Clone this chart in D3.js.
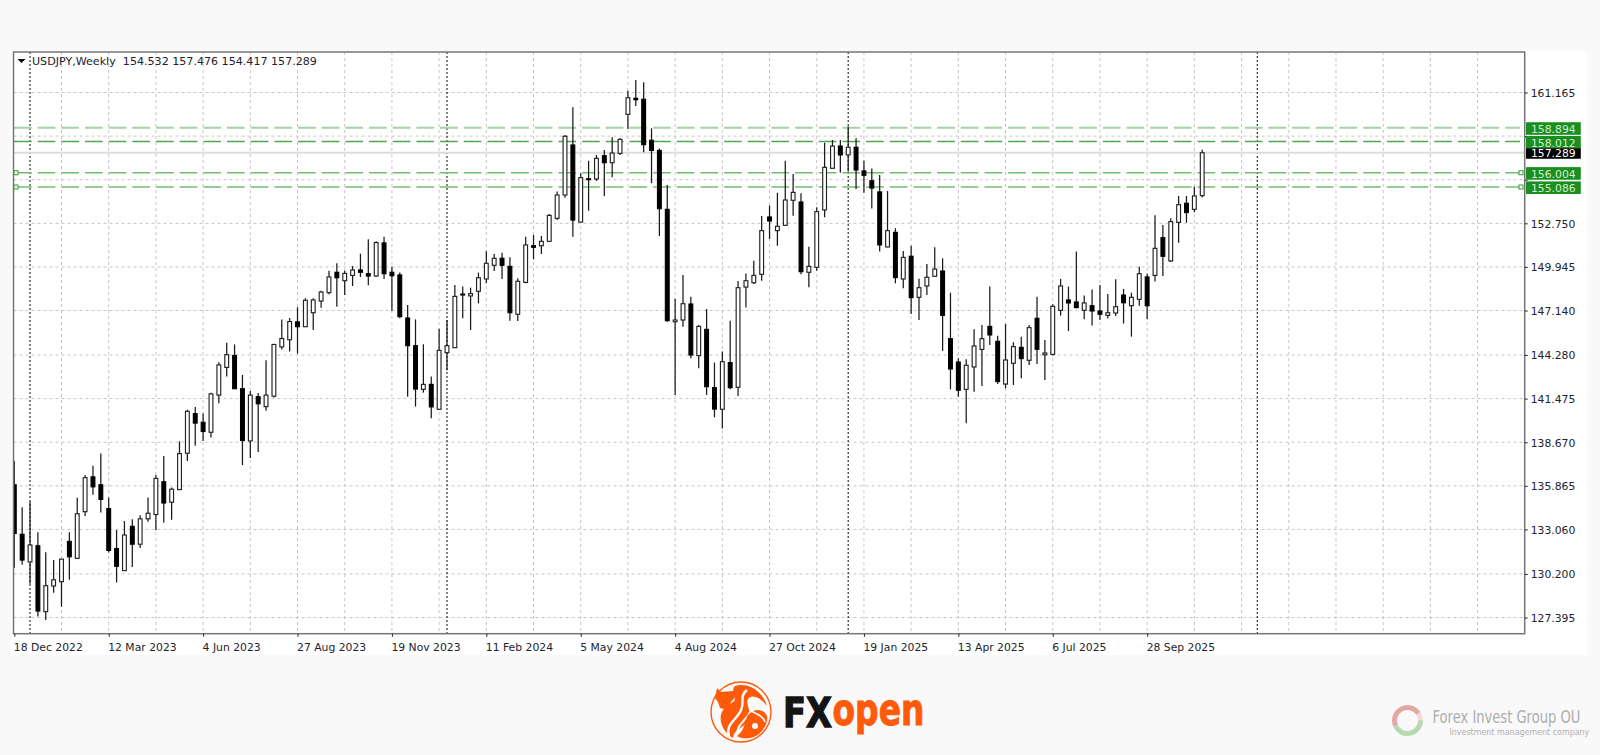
<!DOCTYPE html>
<html>
<head>
<meta charset="utf-8">
<script src="https://cdn.jsdelivr.net/npm/d3@7"></script>
<style>
html,body{margin:0;padding:0;background:#f9f9f9;overflow:hidden}
svg{display:block}
text{font-family:"DejaVu Sans",sans-serif}
</style>
</head>
<body>
<svg id="c" width="1600" height="755"></svg>
<script>
const symbolTitle = "USDJPY,Weekly  154.532 157.476 154.417 157.289";

const opens = [
135.93,132.75,130.97,132.01,127.77,129.42,129.70,132.29,131.20,134.20,
136.44,135.93,134.40,131.83,130.41,133.26,132.11,133.74,134.02,136.13,
134.81,135.62,137.96,140.51,139.95,139.31,141.70,143.48,144.25,142.11,
138.75,141.60,140.96,141.63,144.80,145.26,146.41,146.10,147.00,147.75,
148.29,149.60,149.06,149.40,149.75,149.51,149.36,151.49,149.60,149.43,
146.66,144.88,142.07,142.39,140.79,144.43,144.75,148.20,148.08,148.38,
149.17,150.05,150.50,149.98,146.90,148.95,151.31,151.31,151.59,153.07,
154.57,157.79,152.83,155.62,155.60,157.10,156.65,157.25,159.76,160.79,
160.73,158.09,157.44,153.65,146.42,146.53,147.56,144.24,145.93,142.18,
140.79,143.79,142.20,148.65,148.93,149.47,153.16,152.28,152.62,154.23,
154.12,149.60,149.92,153.61,156.29,157.72,157.15,157.64,156.12,155.49,
154.77,151.23,152.17,149.17,150.63,147.99,148.72,149.34,149.68,145.33,
143.83,142.07,143.51,144.64,146.12,145.16,142.41,143.75,144.77,143.94,
146.64,144.30,144.32,147.15,147.82,147.69,147.15,147.45,147.11,146.83,
146.98,148.14,147.45,147.86,149.30,149.40,151.83,150.33,152.81,154.04,
153.65,154.532];

const highs = [
137.46,134.48,134.84,132.88,131.60,131.09,131.15,132.88,135.09,136.56,
137.15,137.94,135.12,133.03,133.61,133.72,133.97,135.12,136.56,137.79,
135.75,138.73,140.76,140.94,140.51,141.85,143.81,145.06,144.96,143.00,
141.96,141.83,143.94,144.98,146.56,146.66,147.35,147.93,147.93,148.42,
149.70,150.18,149.70,150.01,150.80,151.72,151.59,151.89,149.96,149.58,
147.50,146.57,144.97,142.89,145.97,146.53,148.78,148.68,148.61,149.58,
150.95,150.78,150.86,150.56,149.21,151.89,152.00,151.94,153.35,154.79,
158.43,160.21,155.97,156.78,157.14,157.47,158.28,158.22,161.28,161.97,
161.82,158.86,157.57,155.22,147.90,149.43,148.03,146.21,147.24,143.79,
144.50,146.49,149.04,149.53,150.35,153.22,153.89,154.72,156.78,155.92,
154.68,151.25,153.78,157.94,158.11,158.11,158.97,158.22,156.78,156.27,
155.86,154.83,152.43,150.97,151.31,149.19,150.13,151.21,150.50,148.29,
144.07,144.00,145.93,146.21,148.68,145.52,146.27,145.10,145.46,146.21,
148.03,145.25,147.54,149.17,148.68,150.93,148.10,148.50,148.78,148.20,
149.15,148.53,148.29,149.96,149.53,153.27,152.64,153.07,154.51,154.51,
155.11,157.476];

const lows = [
130.59,130.79,129.57,127.46,127.23,128.99,128.09,129.82,131.20,133.92,
135.29,134.15,131.58,129.65,130.41,130.64,131.86,133.56,133.00,133.49,
133.69,135.62,137.46,138.45,138.75,138.98,141.17,142.90,142.11,137.20,
137.66,138.04,140.69,141.55,144.63,144.50,144.37,146.08,145.89,147.32,
148.18,147.39,148.14,148.72,149.30,148.76,149.32,149.17,147.13,146.64,
141.60,140.96,141.86,140.21,140.79,143.30,144.75,146.64,145.89,147.60,
148.89,149.68,149.17,146.49,146.47,148.89,150.43,150.78,151.57,152.96,
154.40,151.89,152.81,153.56,155.47,154.51,155.71,157.14,158.82,160.30,
157.32,155.32,151.93,146.42,141.71,146.10,144.07,143.42,141.71,140.27,
139.56,142.07,141.64,147.33,148.85,149.06,151.74,151.31,152.60,153.24,
149.47,148.63,149.70,153.14,156.27,156.01,156.07,154.96,154.72,153.71,
150.93,151.21,148.89,148.57,146.92,146.53,148.14,149.32,144.54,142.07,
141.60,139.89,141.92,142.29,144.92,142.41,142.14,142.35,142.78,143.64,
143.70,142.67,144.24,146.81,145.82,147.28,146.58,146.17,146.53,146.62,
146.79,146.30,145.46,147.45,146.58,149.00,149.36,150.26,151.50,152.79,
153.46,154.417];

const closes = [
132.80,131.09,132.06,127.81,129.44,129.82,131.15,131.30,134.07,136.39,
135.80,134.99,131.71,130.69,132.70,132.11,133.74,134.10,136.34,134.76,
135.65,137.94,140.66,139.90,139.36,141.78,143.64,144.30,142.11,138.78,
141.70,141.14,141.70,144.96,145.34,146.43,146.10,147.80,147.82,148.33,
149.30,149.25,149.53,149.75,149.60,149.36,151.51,149.51,149.38,146.75,
144.88,142.09,142.39,140.94,144.58,144.88,148.05,148.14,148.23,149.25,
150.18,150.50,150.05,147.00,149.02,151.36,151.21,151.59,153.26,154.57,
158.35,152.96,155.69,155.56,156.93,156.65,157.27,158.15,160.83,160.70,
157.81,157.44,153.69,146.49,146.53,147.58,144.28,146.12,142.24,140.80,
143.85,142.18,148.61,149.06,149.40,152.28,152.90,152.56,154.25,154.74,
149.64,149.98,153.50,156.35,157.72,157.15,157.64,156.18,155.84,155.02,
151.36,152.28,149.26,150.56,147.97,148.61,149.28,149.81,146.83,143.38,
142.01,143.62,144.86,145.33,145.57,142.57,143.96,144.82,144.05,146.04,
144.65,144.41,147.41,148.72,147.63,147.33,147.63,147.11,146.90,147.00,
147.39,147.64,147.99,149.51,147.45,151.14,150.63,152.86,153.95,153.44,
154.51,157.289];

const dateTickBars = [0,12,24,36,48,60,72,84,96,108,120,132,144];
const dateTickLabels = ["18 Dec 2022","12 Mar 2023","4 Jun 2023","27 Aug 2023","19 Nov 2023","11 Feb 2024","5 May 2024","4 Aug 2024","27 Oct 2024","19 Jan 2025","13 Apr 2025","6 Jul 2025","28 Sep 2025"];
const gridBars = d3.range(0,192,6);
const yearBars = [2,55,106,158];

const priceTicks = [161.165,158.36,155.555,152.75,149.945,147.14,144.28,141.475,138.67,135.865,133.06,130.2,127.395];
const hiddenPriceTicks = [158.36,155.555];

const levelPrices = [158.894,158.012,156.004,155.086];
const levelColors = ["#a3d3a3","#4fa64f","#72bb72","#96cc96"];
const levelWidths = [2,1.4,1.6,2];
const anchoredLevels = [156.004,155.086];
const lastPrice = 157.289;

const svg = d3.select("#c");
const frame = {l:13.5,r:1524.7,t:52,b:633.7};

const x = d3.scaleLinear().domain([0,192]).range([14.3,14.3+7.867*192]);
const y = d3.scaleLinear().domain([127.395,161.165]).range([617.5,92.5]);

// white panel
svg.append("rect").attr("x",11).attr("y",51).attr("width",1576).attr("height",604).attr("fill","#fff");

const defs = svg.append("defs");
defs.append("clipPath").attr("id","plot").append("rect")
  .attr("x",frame.l).attr("y",frame.t).attr("width",frame.r-frame.l).attr("height",frame.b-frame.t);

const plot = svg.append("g").attr("clip-path","url(#plot)");

// grid
plot.append("g").selectAll("line").data(gridBars.slice(1)).join("line")
  .attr("x1",d=>x(d)).attr("x2",d=>x(d)).attr("y1",frame.t).attr("y2",frame.b)
  .attr("stroke","#c6c6c6").attr("stroke-dasharray","3 3");
plot.append("g").selectAll("line").data(priceTicks).join("line")
  .attr("x1",frame.l).attr("x2",frame.r).attr("y1",d=>y(d)).attr("y2",d=>y(d))
  .attr("stroke","#c6c6c6").attr("stroke-dasharray","3 3");

// year separators
plot.append("g").selectAll("line").data(yearBars).join("line")
  .attr("x1",d=>x(d)).attr("x2",d=>x(d)).attr("y1",frame.t).attr("y2",frame.b)
  .attr("stroke","#1c1c1c").attr("stroke-width",1.1).attr("stroke-dasharray","2 2");

// last price line
plot.append("line").attr("x1",frame.l).attr("x2",frame.r).attr("y1",y(lastPrice)).attr("y2",y(lastPrice))
  .attr("stroke","#dcdcdc").attr("stroke-width",2);

// levels
plot.append("g").selectAll("line").data(levelPrices).join("line")
  .attr("x1",14).attr("x2",1520).attr("y1",d=>y(d)).attr("y2",d=>y(d))
  .attr("stroke",(d,i)=>levelColors[i]).attr("stroke-width",(d,i)=>levelWidths[i])
  .attr("stroke-dasharray","17.7 5.97");
[16,1521].forEach(ax=>{
  plot.append("g").selectAll("rect").data(anchoredLevels).join("rect")
    .attr("x",ax-2).attr("y",d=>y(d)-2).attr("width",4).attr("height",4)
    .attr("fill","#fff").attr("stroke","#2f9a2f");
});

// candles
const bars = opens.map((o,i)=>({i,o,h:highs[i],l:lows[i],c:closes[i]}));
const candle = plot.append("g").selectAll("g").data(bars).join("g");
candle.append("line")
  .attr("x1",d=>x(d.i)).attr("x2",d=>x(d.i)).attr("y1",d=>y(d.h)).attr("y2",d=>y(d.l))
  .attr("stroke","#1a1a1a").attr("stroke-width",1.25);
candle.append("rect")
  .attr("x",d=>x(d.i)-1.9).attr("width",3.8)
  .attr("y",d=>y(Math.max(d.o,d.c)))
  .attr("height",d=>Math.max(0.6,Math.abs(y(d.o)-y(d.c))))
  .attr("fill",d=>d.c>=d.o?"#fff":"#000").attr("stroke",d=>d.c>=d.o?"#222":"#000").attr("stroke-width",1.15);

// frame
svg.append("rect").attr("x",frame.l).attr("y",frame.t).attr("width",frame.r-frame.l).attr("height",frame.b-frame.t)
  .attr("fill","none").attr("stroke","#757575").attr("stroke-width",1.5);

// axes
const axisR = d3.axisRight(y).tickValues(priceTicks).tickSize(3).tickPadding(3)
  .tickFormat(d=>hiddenPriceTicks.includes(d)?"":d3.format(".3f")(d));
const gR = svg.append("g").attr("transform",`translate(${frame.r},0)`).call(axisR);
gR.select(".domain").remove();
gR.selectAll("line").attr("stroke","#222");
gR.selectAll("text").attr("fill","#22222e").attr("font-size",10.8).attr("font-family","DejaVu Sans").attr("dy","0.36em");

const axisB = d3.axisBottom(x).tickValues(dateTickBars).tickSize(3).tickPadding(7)
  .tickFormat((d,i)=>dateTickLabels[i]);
const gB = svg.append("g").attr("transform",`translate(0,${frame.b})`).call(axisB);
gB.select(".domain").remove();
gB.selectAll("line").attr("stroke","#222");
gB.selectAll("text").attr("text-anchor","start").attr("x",-1).attr("fill","#22222e")
  .attr("font-size",10.8).attr("font-family","DejaVu Sans");

// price tags
const tagPrices = [158.894,158.012,156.004,155.086];
const tagGroup = svg.append("g");
tagPrices.forEach(p=>{
  tagGroup.append("rect").attr("x",1526).attr("y",y(p)-5.6).attr("width",54.8).attr("height",12.6).attr("fill","#1a8f1f");
  tagGroup.append("text").attr("x",1531).attr("y",y(p)+5).attr("font-size",10.8).attr("fill","#d5ecd0").text(d3.format(".3f")(p));
});
tagGroup.append("rect").attr("x",1526).attr("y",y(lastPrice)-4.5).attr("width",54.8).attr("height",10.5).attr("fill","#000");
tagGroup.append("text").attr("x",1531).attr("y",y(lastPrice)+4.6).attr("font-size",10.8).attr("fill","#fff").text(d3.format(".3f")(lastPrice));

// title
svg.append("path").attr("d","M17.5 59 H25.5 L21.5 63 Z").attr("fill","#000");
svg.append("text").attr("x",32).attr("y",65).attr("font-size",11.1).attr("fill","#22222e")
  .style("white-space","pre").text(symbolTitle);

// fit a text to a target width by scaling it, so its box is its real drawn box
function fitted(label, left, base, width, attrs){
  const t = svg.append("text").text(label);
  Object.entries(attrs).forEach(([k,v])=>t.attr(k,v));
  const w = t.node().getComputedTextLength();
  t.attr("transform",`translate(${left},${base}) scale(${width/w},1)`);
  return t;
}

// FXopen logo
const logo = svg.append("g").attr("transform","translate(741,712)");
const org = "#ff5a0a";
logo.append("circle").attr("r",30).attr("fill","none").attr("stroke",org).attr("stroke-width",1.4);
logo.append("path").attr("fill",org).attr("d","M-6 -26 C8 -30 22 -20 26 -6 C20 -14 12 -18 8 -14 C2 -8 14 0 6 10 C2 16 -8 18 -8 26 C-18 20 -24 8 -18 -2 C-12 -10 -6 -8 -6 -14 C-6 -20 -10 -22 -6 -26 Z");
logo.append("path").attr("fill","none").attr("stroke","#fff").attr("stroke-width",2.4).attr("d","M-12 24 C-16 12 -4 8 0 -2 C4 -10 -2 -16 6 -22");
logo.append("path").attr("fill","none").attr("stroke","#fff").attr("stroke-width",2).attr("d","M-3 22 C-6 14 6 8 10 -2");
logo.append("path").attr("fill",org).attr("d","M-24 -24 L-20 -20 L-8 -21 L-3 -25 L-4 -17 L-10 -10 L-13 -2 L-21 -4 L-23 -10 L-26 -14 Z");
logo.append("path").attr("fill",org).attr("d","M6 4 C14 -6 24 -2 26 4 C27 10 24 16 20 20 C14 27 2 28 -4 24 C2 20 4 12 6 4 Z");
logo.append("circle").attr("cx",14).attr("cy",14).attr("r",3).attr("fill","#fff");
logo.append("path").attr("fill","none").attr("stroke","#fff").attr("stroke-width",1.6).attr("d","M10 -1 C16 2 22 4 24 10");

fitted("FX",783,726.8,49,{"font-family":"Inter","font-weight":900,"font-size":41,"fill":"#141414","stroke":"#141414","stroke-width":1.3});
fitted("open",832.5,725,92,{"font-family":"Inter","font-weight":800,"font-size":45,"fill":org,"stroke":org,"stroke-width":1});

// Forex Invest Group watermark
const wm = svg.append("g").attr("transform","translate(1407.5,720.5)");
const arc = d3.arc().innerRadius(10.5).outerRadius(15.5);
wm.append("path").attr("d",arc({startAngle:-2.0,endAngle:1.0})).attr("fill","#e3a8a2");
wm.append("path").attr("d",arc({startAngle:1.0,endAngle:1.55})).attr("fill","#f3dcda");
wm.append("path").attr("d",arc({startAngle:1.55,endAngle:4.28})).attr("fill","#b9d8b4");
fitted("Forex Invest Group OU",1432.5,723,148,{"font-family":"Roboto","font-size":18.5,"fill":"#adadad"});
fitted("Investment management company",1449.5,735,140,{"font-family":"Liberation Sans","font-size":8.5,"fill":"#b0b0b0"});
</script>
</body>
</html>
